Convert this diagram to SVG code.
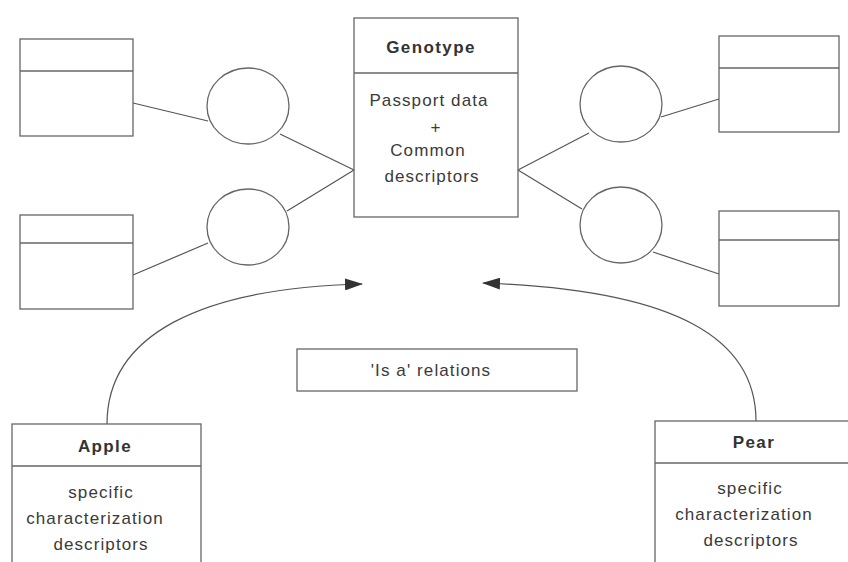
<svg xmlns="http://www.w3.org/2000/svg" width="848" height="562" viewBox="0 0 848 562">
<defs>
<style>
.box{fill:none;stroke:#666;stroke-width:1.3}
.ln{fill:none;stroke:#555;stroke-width:1.2}
.circ{fill:#fff;stroke:#666;stroke-width:1.3}
.hd{font-family:"Liberation Sans",Arial,sans-serif;font-weight:bold;font-size:17px;letter-spacing:1.4px;fill:#333;text-anchor:middle}
.tx{font-family:"Liberation Sans",Arial,sans-serif;font-size:17px;letter-spacing:1.1px;fill:#3a3a3a;text-anchor:middle}
</style>
<marker id="ah" viewBox="0 0 18 12" refX="17" refY="6" markerWidth="18" markerHeight="12" markerUnits="userSpaceOnUse" orient="auto">
<path d="M0,0 L18,6 L0,12 Z" fill="#333"/>
</marker>
</defs>
<rect width="848" height="562" fill="#fff"/>
<g id="connectors">
<line class="ln" x1="133" y1="103" x2="208" y2="121"/>
<line class="ln" x1="280" y1="134" x2="354" y2="170"/>
<line class="ln" x1="287" y1="211" x2="354" y2="170"/>
<line class="ln" x1="133" y1="275" x2="208" y2="243"/>
<line class="ln" x1="518" y1="170" x2="589" y2="133"/>
<line class="ln" x1="518" y1="170" x2="582" y2="209"/>
<line class="ln" x1="661" y1="117" x2="719" y2="99"/>
<line class="ln" x1="653" y1="252" x2="719" y2="274"/>
<path class="ln" d="M107,424 C107,335 200,288 362,284" marker-end="url(#ah)"/>
<path class="ln" d="M756,421 C756,340 680,290 483,283" marker-end="url(#ah)"/>
</g>
<g id="boxL1"><rect class="box" x="20" y="39" width="113" height="97"/><line class="box" x1="20" y1="71" x2="133" y2="71"/></g>
<g id="boxL2"><rect class="box" x="20" y="215" width="113" height="94"/><line class="box" x1="20" y1="243" x2="133" y2="243"/></g>
<g id="boxR1"><rect class="box" x="719" y="36" width="120" height="96"/><line class="box" x1="719" y1="68" x2="839" y2="68"/></g>
<g id="boxR2"><rect class="box" x="719" y="211" width="120" height="95"/><line class="box" x1="719" y1="240" x2="839" y2="240"/></g>
<g id="circL1"><ellipse class="circ" cx="248" cy="106" rx="41" ry="38"/></g>
<g id="circL2"><ellipse class="circ" cx="248" cy="227" rx="41" ry="38"/></g>
<g id="circR1"><ellipse class="circ" cx="621" cy="104" rx="41" ry="38"/></g>
<g id="circR2"><ellipse class="circ" cx="621" cy="225" rx="41" ry="38"/></g>
<g id="genotype">
<rect class="box" x="354" y="18" width="164" height="199"/>
<line class="box" x1="354" y1="73" x2="518" y2="73"/>
<text class="hd" x="431" y="53">Genotype</text>
<text class="tx" x="429" y="106">Passport data</text>
<text class="tx" x="436" y="133">+</text>
<text class="tx" x="428" y="156">Common</text>
<text class="tx" x="432" y="182">descriptors</text>
</g>
<g id="isa">
<rect class="box" x="297" y="349" width="280" height="42"/>
<text class="tx" x="431" y="376">'Is a' relations</text>
</g>
<g id="apple">
<rect class="box" x="12" y="424" width="189" height="150"/>
<line class="box" x1="12" y1="466" x2="201" y2="466"/>
<text class="hd" x="105" y="452">Apple</text>
<text class="tx" x="101" y="498">specific</text>
<text class="tx" x="95" y="524">characterization</text>
<text class="tx" x="101" y="550">descriptors</text>
</g>
<g id="pear">
<rect class="box" x="655" y="421" width="210" height="150"/>
<line class="box" x1="655" y1="463" x2="865" y2="463"/>
<text class="hd" x="754" y="448">Pear</text>
<text class="tx" x="750" y="494">specific</text>
<text class="tx" x="744" y="520">characterization</text>
<text class="tx" x="751" y="546">descriptors</text>
</g>
</svg>
